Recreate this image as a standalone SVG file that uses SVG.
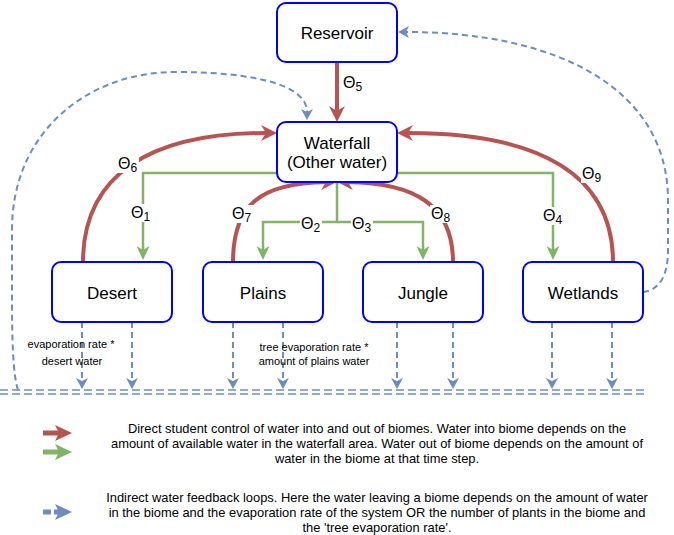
<svg xmlns="http://www.w3.org/2000/svg" width="674" height="535" viewBox="0 0 674 535">
<style>
text{font-family:"Liberation Sans",Arial,Helvetica,sans-serif;fill:#000}
.node rect{fill:#fff;stroke:#0000ff;stroke-width:2}
.node text{font-size:17px;text-anchor:middle}
.red{fill:none;stroke:#b85450;stroke-width:4}
.green{fill:none;stroke:#82b366;stroke-width:2.5}
.blue{fill:none;stroke:#6c8ebf;stroke-width:2;stroke-dasharray:6 4}
.lbl{font-size:16px}
.lbl tspan{font-size:12px}
.bg{fill:#fff}
.small{font-size:11px;text-anchor:middle}
.legend{font-size:12.9px;text-anchor:middle}
</style>
<defs>
<marker id="mr" markerUnits="userSpaceOnUse" viewBox="0 0 16 16" markerWidth="16" markerHeight="16" refX="5" refY="8" orient="auto"><path d="M0,0 L16,8 L0,16 L5,8 Z" fill="#b85450"/></marker>
<marker id="mg" markerUnits="userSpaceOnUse" viewBox="0 0 14 13" markerWidth="14" markerHeight="13" refX="4" refY="6.5" orient="auto"><path d="M0,0 L14,6.5 L0,13 L4,6.5 Z" fill="#82b366"/></marker>
<marker id="mb" markerUnits="userSpaceOnUse" viewBox="0 0 11 12" markerWidth="11" markerHeight="12" refX="3" refY="6" orient="auto"><path d="M0,0 L11,6 L0,12 L3,6 Z" fill="#6c8ebf"/></marker>
</defs>

<g id="connectors">
  <path class="blue" d="M18,390 C13,375 12,340 12,300 L12,230 C12,130 90,72 175,72 C255,72 307,85 307,112" marker-end="url(#mb)"/>
  <path class="blue" d="M643,292 C660,290 668,275 668,250 L668,200 C668,90 560,32 406,32" marker-end="url(#mb)"/>
  <path class="blue" d="M82,322 L82,381" marker-end="url(#mb)"/>
  <path class="blue" d="M132,322 L132,381" marker-end="url(#mb)"/>
  <path class="blue" d="M233,322 L233,381" marker-end="url(#mb)"/>
  <path class="blue" d="M283,322 L283,381" marker-end="url(#mb)"/>
  <path class="blue" d="M397,322 L397,381" marker-end="url(#mb)"/>
  <path class="blue" d="M453,322 L453,381" marker-end="url(#mb)"/>
  <path class="blue" d="M552,322 L552,381" marker-end="url(#mb)"/>
  <path class="blue" d="M612,322 L612,381" marker-end="url(#mb)"/>
  <path d="M0,390 L645,390 M0,394 L645,394" fill="none" stroke="#6c8ebf" stroke-width="1.5" stroke-dasharray="8 4"/>
  <path class="green" d="M277,173 L143,173 L143,250" marker-end="url(#mg)"/>
  <path class="green" d="M397,173 L553,173 L553,250" marker-end="url(#mg)"/>
  <path class="green" d="M337,182 L337,222 L263,222 L263,250" marker-end="url(#mg)"/>
  <path class="green" d="M337,222 L423,222 L423,250" marker-end="url(#mg)"/>
  <path class="red" d="M337,62 L337,111" marker-end="url(#mr)"/>
  <path class="red" d="M83,262 C83,175 150,133 266,133" marker-end="url(#mr)"/>
  <path class="red" d="M613,262 C613,175 540,133 408,133" marker-end="url(#mr)"/>
  <path class="red" d="M233,262 C233,205 260,183 326,182" marker-end="url(#mr)"/>
  <path class="red" d="M453,262 C453,205 415,183 348,182" marker-end="url(#mr)"/>
  <text class="lbl" x="343" y="88">Θ<tspan dy="3">5</tspan></text>
  <rect class="bg" x="117" y="155" width="22" height="18"/>
  <text class="lbl" x="118" y="169">Θ<tspan dy="3">6</tspan></text>
  <rect class="bg" x="581" y="165" width="22" height="18"/>
  <text class="lbl" x="582" y="179">Θ<tspan dy="3">9</tspan></text>
  <rect class="bg" x="130" y="204" width="22" height="18"/>
  <text class="lbl" x="131" y="218">Θ<tspan dy="3">1</tspan></text>
  <rect class="bg" x="231" y="205" width="22" height="18"/>
  <text class="lbl" x="232" y="219">Θ<tspan dy="3">7</tspan></text>
  <rect class="bg" x="300" y="215" width="22" height="18"/>
  <text class="lbl" x="301" y="229">Θ<tspan dy="3">2</tspan></text>
  <rect class="bg" x="351" y="215" width="22" height="18"/>
  <text class="lbl" x="352" y="229">Θ<tspan dy="3">3</tspan></text>
  <rect class="bg" x="430" y="205" width="22" height="18"/>
  <text class="lbl" x="431" y="219">Θ<tspan dy="3">8</tspan></text>
  <rect class="bg" x="542" y="207" width="22" height="18"/>
  <text class="lbl" x="543" y="221">Θ<tspan dy="3">4</tspan></text>
  <text class="small" x="71" y="348">evaporation rate *</text>
  <text class="small" x="72" y="365">desert water</text>
  <text class="small" x="314" y="351">tree evaporation rate *</text>
  <text class="small" x="314" y="365">amount of plains water</text>
</g>

<g id="reservoir" class="node"><rect x="277" y="3" width="120" height="59" rx="9"/><text x="337" y="39">Reservoir</text></g>
<g id="waterfall" class="node"><rect x="277" y="122" width="120" height="60" rx="9"/><text x="337" y="149">Waterfall</text><text x="337" y="168">(Other water)</text></g>
<g id="desert" class="node"><rect x="52" y="262" width="120" height="60" rx="9"/><text x="112" y="299">Desert</text></g>
<g id="plains" class="node"><rect x="203" y="262" width="120" height="60" rx="9"/><text x="263" y="299">Plains</text></g>
<g id="jungle" class="node"><rect x="363" y="262" width="120" height="60" rx="9"/><text x="423" y="299">Jungle</text></g>
<g id="wetlands" class="node"><rect x="523" y="262" width="120" height="60" rx="9"/><text x="583" y="299">Wetlands</text></g>

<g id="legend">
  <path d="M43,433 L60,433" stroke="#b85450" stroke-width="5"/>
  <path d="M55,425 L72,433 L55,441 L59,433 Z" fill="#b85450"/>
  <path d="M43,452 L60,452" stroke="#82b366" stroke-width="5"/>
  <path d="M55,444 L72,452 L55,460 L59,452 Z" fill="#82b366"/>
  <path d="M43,512 L51,512 M54,512 L60,512" stroke="#6c8ebf" stroke-width="5"/>
  <path d="M55,504 L72,512 L55,520 L59,512 Z" fill="#6c8ebf"/>
  <text class="legend" x="377" y="433">Direct student control of water into and out of biomes. Water into biome depends on the</text>
  <text class="legend" x="377" y="448">amount of available water in the waterfall area. Water out of biome depends on the amount of</text>
  <text class="legend" x="377" y="463">water in the biome at that time step.</text>
  <text class="legend" x="377" y="502">Indirect water feedback loops. Here the water leaving a biome depends on the amount of water</text>
  <text class="legend" x="377" y="517">in the biome and the evaporation rate of the system OR the number of plants in the biome and</text>
  <text class="legend" x="377" y="532">the 'tree evaporation rate'.</text>
</g>
</svg>
